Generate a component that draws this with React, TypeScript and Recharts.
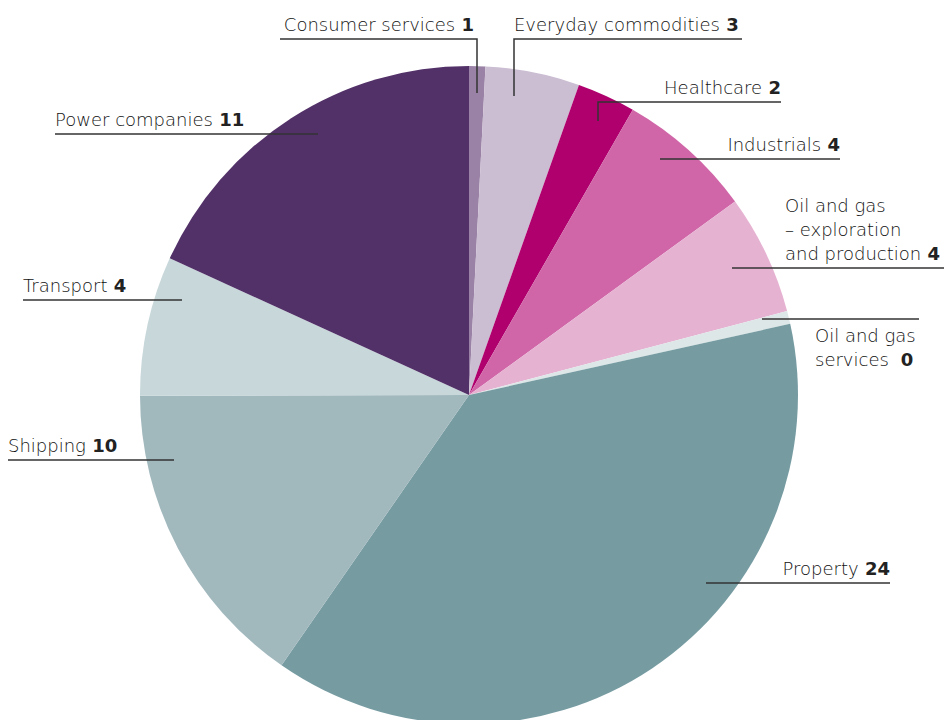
import { PieChart, Pie, Cell } from 'recharts';

// sectors, clockwise from 12 o'clock
const categories = [
  'Consumer services',
  'Everyday commodities',
  'Healthcare',
  'Industrials',
  'Oil and gas – exploration and production',
  'Oil and gas services',
  'Property',
  'Shipping',
  'Transport',
  'Power companies',
];
const values = [0.5, 2.9, 1.8, 4.2, 3.7, 0.4, 23.9, 9.6, 4.3, 11.4];
const labelLines: string[][] = [
  ['Consumer services'],
  ['Everyday commodities'],
  ['Healthcare'],
  ['Industrials'],
  ['Oil and gas', '– exploration', 'and production'],
  ['Oil and gas', 'services\u00a0'],
  ['Property'],
  ['Shipping'],
  ['Transport'],
  ['Power companies'],
];
const colors = [
  '#9a82a6',
  '#cbbdd2',
  '#b0006e',
  '#d066a8',
  '#e6b2d2',
  '#dde7e8',
  '#769ca2',
  '#a1b8bd',
  '#c8d7da',
  '#523068',
];

const data = categories.map((name, i) => ({ name, value: values[i] }));

// leader lines and text anchors, as offsets from the pie centre
type LabelLayout = {
  line: [number, number][];
  tx: number;
  ty: number;
  anchor: 'start' | 'end';
};
const layout: LabelLayout[] = [
  { line: [[-189, -356], [8, -356], [8, -302]], tx: 5, ty: -364, anchor: 'end' },
  { line: [[273, -356], [45, -356], [45, -299]], tx: 45, ty: -364, anchor: 'start' },
  { line: [[312, -293], [129, -293], [129, -274]], tx: 312, ty: -301, anchor: 'end' },
  { line: [[371, -236], [191, -236]], tx: 371, ty: -244, anchor: 'end' },
  { line: [[475, -127], [263, -127]], tx: 316, ty: -183, anchor: 'start' },
  { line: [[450, -76], [293, -76]], tx: 346, ty: -53, anchor: 'start' },
  { line: [[421, 188], [237, 188]], tx: 421, ty: 180, anchor: 'end' },
  { line: [[-461, 65], [-295, 65]], tx: -461, ty: 57, anchor: 'start' },
  { line: [[-446, -95], [-287, -95]], tx: -446, ty: -103, anchor: 'start' },
  { line: [[-414, -261], [-151, -261]], tx: -414, ty: -269, anchor: 'start' },
];

const LINE_HEIGHT = 24;

const renderLabel = (props: any) => {
  const { cx, cy, index } = props;
  const l = layout[index];
  const rows = labelLines[index];
  const pts = l.line.map(([dx, dy]) => `${cx + dx},${cy + dy}`).join(' ');
  return (
    <g key={`lbl-${index}`}>
      <polyline points={pts} fill="none" stroke="#333" strokeWidth={1.5} />
      <text
        x={cx + l.tx}
        y={cy + l.ty}
        textAnchor={l.anchor}
        fontFamily="'DejaVu Sans', sans-serif"
        fontSize={18}
        fontWeight={300}
        fill="#111"
      >
        {rows.map((row, r) => (
          <tspan key={r} x={cx + l.tx} dy={r === 0 ? 0 : LINE_HEIGHT}>
            {row}
            {r === rows.length - 1 && (
              <tspan fontWeight={700} fill="#222">
                {' ' + Math.round(values[index])}
              </tspan>
            )}
          </tspan>
        ))}
      </text>
    </g>
  );
};

export default function App() {
  return (
    <div style={{ position: 'absolute', left: 0, top: 0, width: 944, height: 720, background: '#fff' }}>
      <PieChart width={944} height={720} margin={{ top: 0, right: 0, bottom: 0, left: 0 }}>
        <Pie
          data={data}
          dataKey="value"
          nameKey="name"
          cx={469}
          cy={395}
          outerRadius={329}
          startAngle={90}
          endAngle={-270}
          stroke="none"
          label={renderLabel}
          labelLine={false}
          isAnimationActive={false}
        >
          {data.map((d, i) => (
            <Cell key={d.name} fill={colors[i]} />
          ))}
        </Pie>
      </PieChart>
    </div>
  );
}
